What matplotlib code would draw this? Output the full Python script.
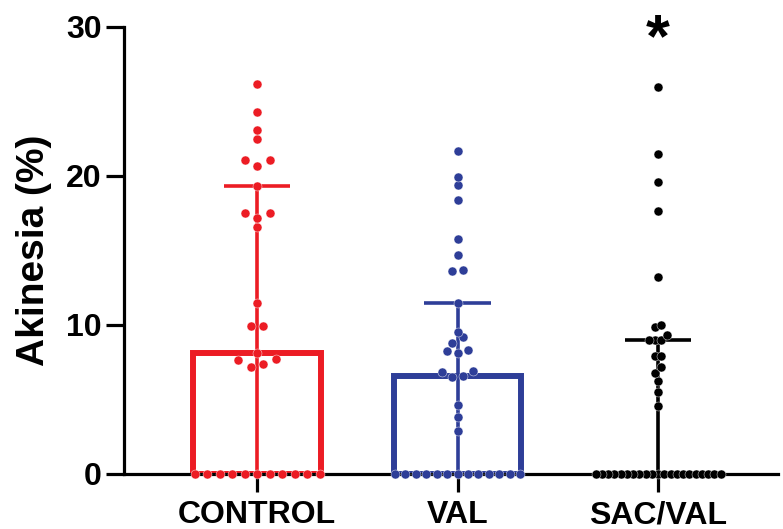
import numpy as np
import matplotlib
matplotlib.use("Agg")
import matplotlib.pyplot as plt

plt.rcParams['font.family'] = ['Liberation Sans', 'DejaVu Sans']
plt.rcParams['font.weight'] = 'bold'

categories = ["CONTROL", "VAL", "SAC/VAL"]
colors = ["#EC1C24", "#2E3E98", "#000000"]

control = [0, 0, 0, 0, 0, 0, 0, 0, 0, 0, 0,
           7.2, 7.4, 7.65, 7.7, 8.1, 9.9, 9.9, 11.5, 16.6, 17.2, 17.5, 17.5,
           19.3, 20.7, 21.1, 21.1, 22.5, 23.1, 24.3, 26.2]
val = [0, 0, 0, 0, 0, 0, 0, 0, 0, 0, 0, 0, 0,
       2.9, 3.85, 4.6, 6.5, 6.6, 6.85, 6.9, 8.1, 8.25, 8.3, 8.8, 9.2, 9.5,
       11.5, 13.6, 13.7, 14.7, 15.75, 18.4, 19.4, 19.95, 21.7]
sac_val = [0] * 21 + [4.55, 5.5, 6.25, 6.8, 7.2, 7.9, 7.9, 9.0, 9.0, 9.0, 9.3,
                      9.85, 10.0, 13.2, 17.65, 19.6, 21.5, 26.0]
groups = [control, val, sac_val]

yticks = [0, 10, 20, 30]
significance = ["", "", "*"]

fig = plt.figure(figsize=(7.83, 5.29), dpi=100)
ax = fig.add_axes([0.158, 0.104, 0.836, 0.845])
ax.set_xlim(-0.665, 2.6)
ax.set_ylim(0, 30)

bar_w = 0.635
lw_bar = 4.3
dot_px = 9.0
row_width_px = 125.0

# pixel scale
p0 = ax.transData.transform((0, 0))
p1 = ax.transData.transform((1, 1))
ppx, ppy = p1[0] - p0[0], p1[1] - p0[1]

for i, (vals, col) in enumerate(zip(groups, colors)):
    v = np.array(vals, dtype=float)
    med = np.percentile(v, 50, method='weibull')
    q1 = np.percentile(v, 25, method='weibull')
    q3 = np.percentile(v, 75, method='weibull')
    ax.bar(i, med, width=bar_w, facecolor='white', edgecolor=col,
           linewidth=lw_bar, zorder=2)
    ax.vlines(i, q1, q3, color=col, linewidth=2.6, zorder=3)
    ax.hlines(q3, i - 0.165, i + 0.165, color=col, linewidth=2.6, zorder=3)

    # group values into rows
    vs = np.sort(v)
    rows = []
    for val_ in vs:
        if rows and (val_ - rows[-1][0]) * ppy < 7.5:
            rows[-1].append(val_)
        else:
            rows.append([val_])
    kmax = max(len(r) for r in rows)
    spacing = min(12.5, row_width_px / max(kmax - 1, 1))
    xs, ys = [], []
    for r in rows:
        k = len(r)
        if k % 2 == 1:
            offs = [0.0]
            for j in range(1, k // 2 + 1):
                offs += [-j * spacing, j * spacing]
        else:
            offs = []
            for j in range(k // 2):
                offs += [-(j + 0.5) * spacing, (j + 0.5) * spacing]
        for val_, o in zip(r, offs):
            xs.append(i + o / ppx)
            ys.append(val_)
    ax.scatter(xs, ys, s=(dot_px * 0.72) ** 2, color=col, edgecolors='white',
               linewidths=0.3, zorder=5, clip_on=False)
    if significance[i]:
        ax.text(i, 29.1, significance[i], ha='center', va='center',
                fontsize=44, fontweight='bold')

for s in ['top', 'right']:
    ax.spines[s].set_visible(False)
for s in ['left', 'bottom']:
    ax.spines[s].set_linewidth(2.3)
    ax.spines[s].set_zorder(2.5)

ax.set_yticks(yticks)
ax.set_xticks(range(len(categories)))
ax.set_xticklabels(categories)
ax.tick_params(axis='both', width=2.3, length=13, labelsize=23)
ax.tick_params(axis='y', pad=3)
ax.tick_params(axis='x', pad=6)
ax.set_ylabel("Akinesia (%)", fontsize=28, fontweight='bold', labelpad=10)

fig.savefig("out.png", dpi=100)
